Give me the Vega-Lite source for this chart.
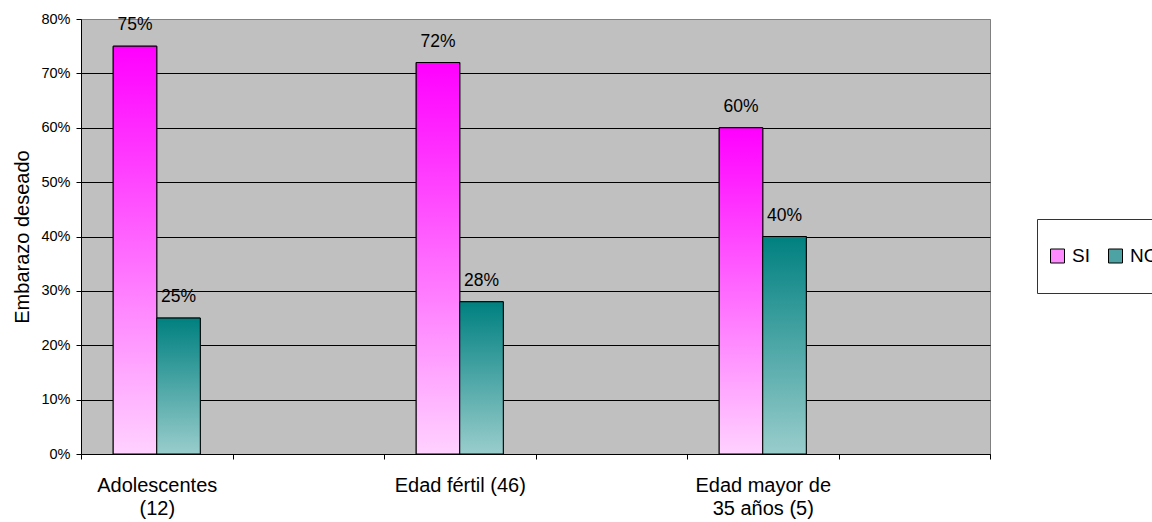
{
  "$schema": "https://vega.github.io/schema/vega-lite/v6.json",
  "width": 909,
  "height": 435,
  "autosize": {"type": "none"},
  "padding": {"left": 81, "top": 19, "right": 162, "bottom": 68},
  "background": "white",
  "config": {
    "font": "Liberation Sans",
    "view": {"fill": "#C0C0C0", "stroke": "#808080", "strokeWidth": 1}
  },
  "data": {
    "values": [
      {"grupo": "Adolescentes (12)", "respuesta": "SI", "porcentaje": 0.75},
      {"grupo": "Adolescentes (12)", "respuesta": "NO", "porcentaje": 0.25},
      {"grupo": "Edad fértil (46)", "respuesta": "SI", "porcentaje": 0.72},
      {"grupo": "Edad fértil (46)", "respuesta": "NO", "porcentaje": 0.28},
      {"grupo": "Edad mayor de 35 años (5)", "respuesta": "SI", "porcentaje": 0.60},
      {"grupo": "Edad mayor de 35 años (5)", "respuesta": "NO", "porcentaje": 0.40}
    ]
  },
  "encoding": {
    "x": {
      "field": "grupo",
      "type": "nominal",
      "scale": {
        "domain": ["Adolescentes (12)", "-1", "Edad fértil (46)", "-2", "Edad mayor de 35 años (5)", "-3"],
        "paddingInner": 0,
        "paddingOuter": 0
      },
      "axis": {
        "title": null,
        "grid": false,
        "tickBand": "extent",
        "labelAngle": 0,
        "labelFontSize": 20,
        "labelColor": "black",
        "labelBaseline": "top",
        "labelPadding": 16,
        "labelLineHeight": 23,
        "labelOverlap": false,
        "tickSize": 5,
        "tickColor": "black",
        "domainColor": "black",
        "labelExpr": "datum.value == 'Adolescentes (12)' ? ['Adolescentes', '(12)'] : datum.value == 'Edad mayor de 35 años (5)' ? ['Edad mayor de', '35 años (5)'] : datum.value == 'Edad fértil (46)' ? 'Edad fértil (46)' : ''"
      }
    },
    "xOffset": {
      "field": "respuesta",
      "type": "nominal",
      "scale": {"domain": ["SI", "NO"], "paddingInner": 0, "paddingOuter": 0.74}
    },
    "y": {
      "field": "porcentaje",
      "type": "quantitative",
      "scale": {"domain": [0, 0.8], "nice": false},
      "axis": {
        "title": "Embarazo deseado",
        "format": ".0%",
        "values": [0, 0.1, 0.2, 0.3, 0.4, 0.5, 0.6, 0.7, 0.8],
        "tickSize": 5,
        "tickColor": "black",
        "labelPadding": 6,
        "labelFontSize": 14.5,
        "labelColor": "black",
        "domainColor": "black",
        "grid": true,
        "gridColor": {"condition": {"test": "datum.value >= 0.8", "value": "#808080"}, "value": "black"},
        "gridWidth": 1,
        "gridOpacity": 1,
        "titleFontSize": 20,
        "titleFontWeight": "normal",
        "titleColor": "black",
        "titleAngle": -90,
        "titleAlign": "center",
        "titleBaseline": "alphabetic",
        "titleX": -53,
        "titleY": 217.5
      }
    }
  },
  "layer": [
    {
      "mark": {"type": "bar", "stroke": "black", "strokeWidth": 1},
      "encoding": {
        "fill": {
          "field": "respuesta",
          "type": "nominal",
          "scale": {"domain": ["SI", "NO"], "range": ["#FF8CFF", "#4DA3A3"]},
          "legend": {
            "orient": "none",
            "legendX": 956,
            "legendY": 200,
            "direction": "horizontal",
            "title": null,
            "fillColor": "white",
            "strokeColor": "#333333",
            "padding": 11,
            "symbolType": "square",
            "symbolSize": 196,
            "symbolStrokeColor": "black",
            "symbolStrokeWidth": 1,
            "symbolOpacity": 1,
            "labelFontSize": 19,
            "labelColor": "black",
            "labelOffset": 5,
            "columnPadding": 16,
            "clipHeight": 52
          }
        }
      }
    },
    {
      "transform": [{"filter": "datum.respuesta === 'SI'"}],
      "mark": {
        "type": "bar",
        "stroke": "black",
        "strokeWidth": 1,
        "fill": {"gradient": "linear", "x1": 0, "y1": 0, "x2": 0, "y2": 1, "stops": [{"offset": 0, "color": "#FF00FF"}, {"offset": 1, "color": "#FFD2FF"}]}
      }
    },
    {
      "transform": [{"filter": "datum.respuesta === 'NO'"}],
      "mark": {
        "type": "bar",
        "stroke": "black",
        "strokeWidth": 1,
        "fill": {"gradient": "linear", "x1": 0, "y1": 0, "x2": 0, "y2": 1, "stops": [{"offset": 0, "color": "#008080"}, {"offset": 1, "color": "#99CDCC"}]}
      }
    },
    {
      "mark": {"type": "text", "baseline": "middle", "align": "center", "dy": -21, "fontSize": 17.5, "color": "black"},
      "encoding": {
        "text": {"field": "porcentaje", "type": "quantitative", "format": ".0%"}
      }
    }
  ]
}
